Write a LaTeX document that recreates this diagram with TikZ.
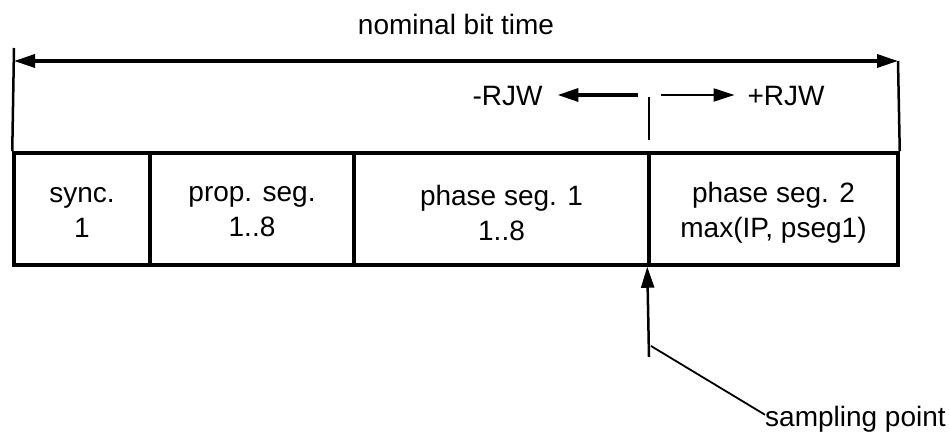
\documentclass[tikz,border=0pt]{standalone}
\usepackage{fontspec}
\setmainfont{Liberation Sans}
\usetikzlibrary{arrows.meta}
\begin{document}
\begin{tikzpicture}[x=1pt,y=-1pt,
  every node/.style={font=\fontsize{28}{35}\selectfont},
  seg/.style={draw, line width=3.5pt, minimum height=112pt, inner sep=0pt, align=center},
  segtext/.style={inner sep=0pt, align=center},
  lbl/.style={inner sep=0pt},
  head/.style={-{Triangle[length=21pt,width=13pt]}},
  span/.style={{Triangle[length=21pt,width=13pt]}-{Triangle[length=21pt,width=13pt]}, line width=3.5pt},
  tick/.style={line width=2.5pt}
]
\useasboundingbox (0,0) rectangle (949,435);

% bit segments
\node[seg, minimum width=136pt] (sync)   at (82,209)    {};
\node[seg, minimum width=204pt] (prop)   at (252,209)   {};
\node[seg, minimum width=295pt] (phase1) at (501.5,209) {};
\node[seg, minimum width=249pt] (phase2) at (773.5,209) {};
\node[segtext] (synct)   at (82,212)    {sync.\\1};
\node[segtext] (propt)   at (252,212)   {prop. seg.\\1..8};
\node[segtext] (phase1t) at (501.5,213) {phase seg. 1\\1..8};
\node[segtext] (phase2t) at (773.5,213) {phase seg. 2\\max(IP, pseg1)};

% nominal bit time span
\node[lbl] (nbt) at (456,24) {nominal bit time};
\coordinate (lt) at (14,48);
\coordinate (rt) at (898,61);
\draw[tick] (lt) -- (sync.north west);
\draw[tick] (rt) -- (phase2.north east);
\draw[span] (lt |- rt) -- (rt);

% resynchronisation jump width
\coordinate (mtop) at (649,97);
\coordinate (mbot) at (649,140);
\draw[line width=2.2pt] (mtop) -- (mbot);
\node[lbl, outer sep=15pt] (mrjw) at (507.5,96) {-RJW};
\node[lbl, outer sep=13pt] (prjw) at (786,96) {+RJW};
\coordinate (ms) at (638,95);
\coordinate (ps) at (661,95);
\draw[head, line width=3.5pt] (ms) -- (ms -| mrjw.east);
\draw[head, line width=2.2pt] (ps) -- (ps -| prjw.west);

% sampling point
\coordinate (sp) at (649,357);
\coordinate (spk) at (651,346);
\node[lbl, anchor=base west] (spl) at (765,426) {sampling point};
\draw[head, line width=2.5pt] (sp) -- (phase2.south west);
\draw[line width=1.8pt] (spk) -- ([yshift=4pt]spl.west);
\end{tikzpicture}
\end{document}
